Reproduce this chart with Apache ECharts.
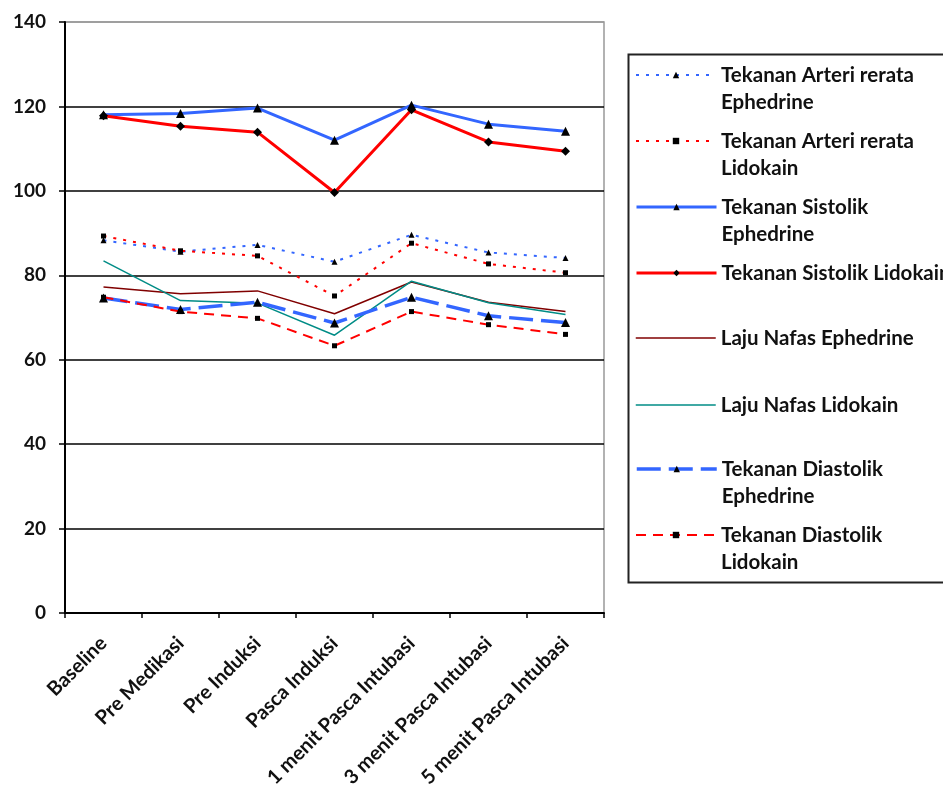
<!DOCTYPE html>
<html>
<head>
<meta charset="utf-8">
<script src="https://cdn.jsdelivr.net/npm/echarts@6/dist/echarts.min.js"></script>
<style>
  html, body { margin: 0; padding: 0; background: #fff; }
  #chart { width: 943px; height: 793px; }
</style>
</head>
<body>
<div id="chart"></div>
<script>
// Time points of the observation
const categories = ['Baseline', 'Pre Medikasi', 'Pre Induksi', 'Pasca Induksi',
  '1 menit Pasca Intubasi', '3 menit Pasca Intubasi', '5 menit Pasca Intubasi'];

// Y axis range
const yTicks = { min: 0, max: 140, interval: 20 };

// Measurements per group
const arteriEphedrine   = [88.3, 85.6, 87.2, 83.2, 89.6, 85.4, 84.1];
const arteriLidokain    = [89.3, 85.8, 84.6, 75.1, 87.6, 82.7, 80.6];
const sistolikEphedrine = [118.0, 118.3, 119.6, 112.0, 120.3, 115.8, 114.1];
const sistolikLidokain  = [117.8, 115.3, 113.9, 99.6, 119.2, 111.6, 109.4];
const nafasEphedrine    = [77.2, 75.6, 76.3, 70.9, 78.4, 73.6, 71.4];
const nafasLidokain     = [83.4, 74.0, 73.4, 65.8, 78.6, 73.5, 70.7];
const diastolikEphedrine = [74.6, 71.9, 73.6, 68.7, 74.8, 70.4, 68.8];
const diastolikLidokain  = [74.8, 71.4, 69.8, 63.3, 71.4, 68.3, 66.0];

const seriesNames = [
  'Tekanan Arteri rerata\nEphedrine',
  'Tekanan Arteri rerata\nLidokain',
  'Tekanan Sistolik\nEphedrine',
  'Tekanan Sistolik Lidokain',
  'Laju Nafas Ephedrine',
  'Laju Nafas Lidokain',
  'Tekanan Diastolik\nEphedrine',
  'Tekanan Diastolik\nLidokain'
];

const FONT = 'Lato';
const BLUE = '#3366FF';
const RED = '#FF0000';

function lineSeries(name, data, color, width, type, symbol, size) {
  return {
    name: name,
    type: 'line',
    data: data,
    symbol: symbol,
    symbolSize: size,
    showSymbol: symbol !== 'none',
    itemStyle: { color: '#000' },
    lineStyle: { color: color, width: width, type: type },
    emphasis: { disabled: true },
    animation: false
  };
}

const series = [
  lineSeries(seriesNames[0], arteriEphedrine, BLUE, 2, [3, 7], 'triangle', 6),
  lineSeries(seriesNames[1], arteriLidokain, RED, 2, [3, 7], 'rect', 5),
  lineSeries(seriesNames[2], sistolikEphedrine, BLUE, 3, 'solid', 'triangle', 9),
  lineSeries(seriesNames[3], sistolikLidokain, RED, 3, 'solid', 'diamond', 9),
  lineSeries(seriesNames[4], nafasEphedrine, '#800000', 1.5, 'solid', 'none', 0),
  lineSeries(seriesNames[5], nafasLidokain, '#008C86', 1.5, 'solid', 'none', 0),
  lineSeries(seriesNames[6], diastolikEphedrine, BLUE, 3.5, [24, 8], 'triangle', 9),
  lineSeries(seriesNames[7], diastolikLidokain, RED, 2, [10, 7], 'rect', 5)
];

// One legend block per entry, stacked at a fixed pitch.
// Wrapped names get an empty leading line so the icon sits beside the first line.
const LINE_H = 27;
const legendRowY = [75, 141, 207, 273, 338, 405, 469, 535];
const legends = seriesNames.map(function (name, i) {
  const twoLines = name.indexOf('\n') >= 0;
  const item = { name: name, lineStyle: { width: series[i].lineStyle.width } };
  if (i === 4 || i === 5) item.itemStyle = { opacity: 0 };
  return {
    orient: 'vertical',
    left: 635,
    top: legendRowY[i] - (twoLines ? LINE_H * 1.5 : LINE_H / 2),
    padding: 0,
    itemWidth: 80,
    itemHeight: 8,
    selectedMode: false,
    data: [item],
    formatter: function (n) { return n.indexOf('\n') >= 0 ? ' \n' + n : n; },
    textStyle: {
      fontFamily: FONT, fontWeight: 'bold', fontSize: 20.5, color: '#111', lineHeight: LINE_H
    }
  };
});

const option = {
  backgroundColor: '#fff',
  grid: { left: 65, right: 339, top: 22, bottom: 180, show: true, borderColor: '#999', borderWidth: 1.5, backgroundColor: 'transparent' },
  legend: legends,
  xAxis: {
    type: 'category',
    data: categories,
    boundaryGap: true,
    axisLine: { lineStyle: { color: '#000', width: 2 } },
    axisTick: { show: true, alignWithLabel: false, length: 5, lineStyle: { color: '#000', width: 1.5 } },
    axisLabel: {
      rotate: 45, interval: 0, margin: 27,
      fontFamily: FONT, fontWeight: 'bold', fontSize: 20, color: '#111'
    },
    splitLine: { show: false }
  },
  yAxis: {
    type: 'value',
    min: yTicks.min, max: yTicks.max, interval: yTicks.interval,
    axisLine: { show: true, lineStyle: { color: '#000', width: 2 } },
    axisTick: { show: true, length: 6, lineStyle: { color: '#000', width: 1.5 } },
    axisLabel: { margin: 19, fontFamily: FONT, fontWeight: 'bold', fontSize: 19, color: '#111' },
    splitLine: { show: true, lineStyle: { color: ['#000', '#000', '#000', '#000', '#000', '#000', '#000', '#999'], width: 1.5 } }
  },
  graphic: [{
    type: 'rect',
    left: 626, top: 52,
    shape: { width: 340, height: 528 },
    style: { fill: 'none', stroke: '#222', lineWidth: 2 },
    silent: true, z: 0
  }],
  series: series
};

const chart = echarts.init(document.getElementById('chart'), null, { renderer: 'canvas' });
chart.setOption(option);
</script>
</body>
</html>
